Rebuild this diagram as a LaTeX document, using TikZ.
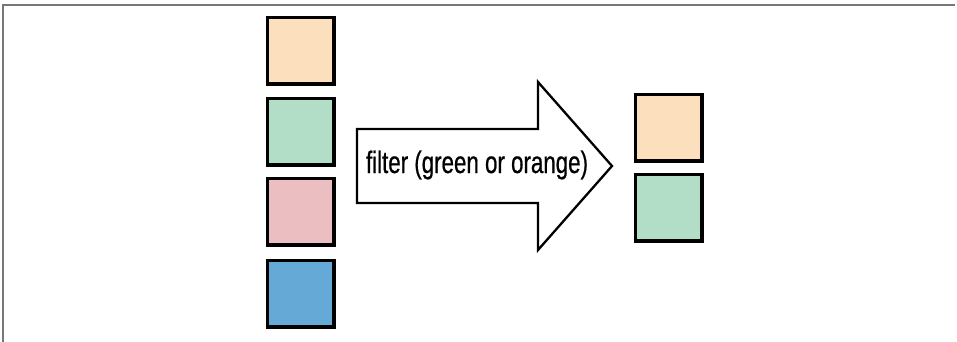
\documentclass[tikz,border=0pt]{standalone}
\usepackage{fontspec}
\newfontfamily\condfont[FakeStretch=0.72,FakeBold=0.6]{Liberation Sans}
\definecolor{cpeach}{HTML}{FCDFBC}
\definecolor{cgreen}{HTML}{B2DEC7}
\definecolor{cpink}{HTML}{EBBEC1}
\definecolor{cblue}{HTML}{65AAD7}
\definecolor{cframe}{HTML}{777777}
\tikzset{
  sq/.style={draw=black, line width=3.2pt, minimum size=66.8pt, inner sep=0pt, anchor=north west, line join=miter},
  bigarrow/.style={draw=black, line width=2.3pt, fill=white, line join=miter},
  frameline/.style={draw=cframe, line width=1.6pt},
  lbl/.style={font=\condfont\fontsize{31}{34}\selectfont, inner sep=0pt, anchor=base}
}
\begin{document}
\begin{tikzpicture}[x=1pt,y=-1pt]
\useasboundingbox (0,0) rectangle (957,342);
\draw[frameline] (3,342) -- (3,5) -- (955,5);
% left column
\node[sq, fill=cpeach] (a1) at (265.6,15.6) {};
\node[sq, fill=cgreen] (a2) at (265.6,96.6) {};
\node[sq, fill=cpink]  (a3) at (265.6,176.6) {};
\node[sq, fill=cblue]  (a4) at (265.6,258.6) {};
% right column
\node[sq, fill=cpeach] (b1) at (633.6,92.6) {};
\node[sq, fill=cgreen] (b2) at (633.6,172.6) {};
% big arrow
\draw[bigarrow] (357,129) -- (538,129) -- (538,82) -- (612,166) -- (538,250) -- (538,203) -- (357,203) -- cycle;
\node[lbl] (t) at (477,173) {filter (green or orange)};
\end{tikzpicture}
\end{document}
